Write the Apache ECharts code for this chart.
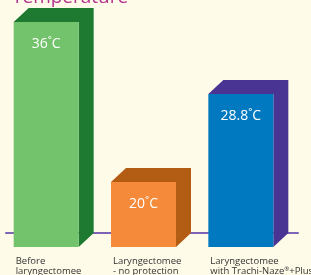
<!DOCTYPE html>
<html>
<head>
<meta charset="utf-8">
<title>temperature</title>
<script src="https://cdn.jsdelivr.net/npm/echarts@6/dist/echarts.min.js"></script>
<style>
html, body { margin: 0; padding: 0; background: #fffbe9; }
#main { width: 311px; height: 275px; }
</style>
</head>
<body>
<div id="main"></div>
<script>
var categories = ['Before\nlaryngectomee', 'Laryngectomee\n- no protection', 'Laryngectomee\nwith Trachi-Naze{r|®}+Plus'];
var temps = [36, 20, 28.8];
var unit = '˚C';

// front / side colours of each box
var frontColors = ['#72c36b', '#f58a3a', '#0079c1'];
var darkColors = ['#1d7a30', '#b25c14', '#4a3493'];

var Y_MIN = 13.5;
var FONT = '"Open Sans", "Noto Sans", sans-serif';

function renderBox(params, api) {
    var i = params.dataIndex;
    var topPt = api.coord([i, api.value(1)]);
    var basePt = api.coord([i, Y_MIN]);
    var depthX = 15, depthY = 14, frontW = 65;
    var left = topPt[0] - (frontW + depthX) / 2 - 1;
    var right = left + frontW;
    var top = topPt[1], bottom = basePt[1];
    return {
        type: 'group',
        children: [
            {
                type: 'polygon',
                shape: { points: [[left, top], [left + depthX, top - depthY], [right + depthX, top - depthY],
                                  [right + depthX, bottom - depthY], [right, bottom], [right, top]] },
                style: { fill: darkColors[i] }
            },
            {
                type: 'rect',
                shape: { x: left, y: top, width: frontW, height: bottom - top },
                style: { fill: frontColors[i] }
            },
            {
                type: 'text',
                x: left + frontW / 2, y: top + 22,
                style: { text: api.value(1) + unit, fill: '#fff', fontSize: 14, fontFamily: FONT,
                         align: 'center', verticalAlign: 'middle' }
            },
            {
                type: 'text',
                x: left + 2, y: bottom + 9,
                style: { text: categories[i], fill: '#333', fontSize: 9.5, fontFamily: FONT,
                         lineHeight: 10, verticalAlign: 'top',
                         rich: { r: { fontSize: 6, fontFamily: FONT, fill: '#333', padding: [0, 0, 4, 0] } } }
            }
        ]
    };
}

var myChart = echarts.init(document.getElementById('main'));
var option = {
    backgroundColor: '#fffbe9',
    animation: false,
    title: {
        text: 'Temperature',
        left: 12,
        top: -12,
        padding: 0,
        textStyle: { color: '#b4328f', fontSize: 19, fontWeight: 'normal', fontFamily: FONT }
    },
    grid: { left: 6, right: 13, top: 0, bottom: 28 },
    xAxis: {
        type: 'category',
        data: categories,
        offset: -14.5,
        axisLine: { lineStyle: { color: '#7d64b4', width: 2 } },
        axisTick: { show: false },
        axisLabel: { show: false }
    },
    yAxis: {
        type: 'value',
        min: Y_MIN,
        max: 38.2,
        show: false,
        splitLine: { show: false }
    },
    series: [{
        type: 'custom',
        renderItem: renderBox,
        clip: false,
        data: temps.map(function (t, i) { return [i, t]; })
    }]
};
myChart.setOption(option);
</script>
</body>
</html>
